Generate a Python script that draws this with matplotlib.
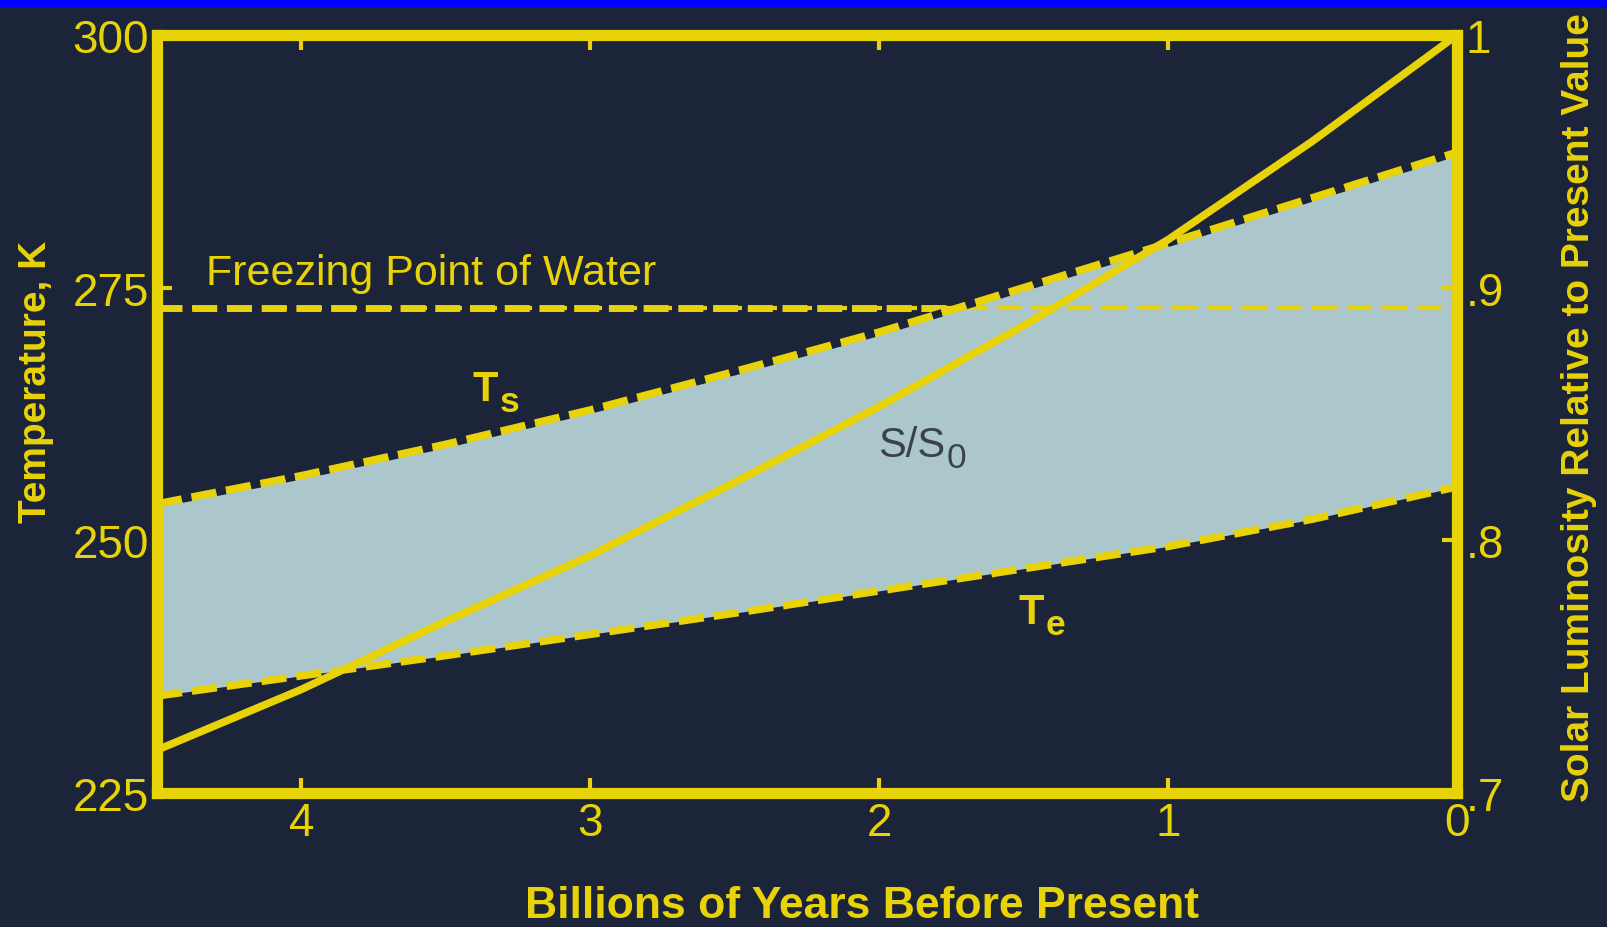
import matplotlib
matplotlib.use("Agg")
import matplotlib.pyplot as plt
from matplotlib.patches import Rectangle

plt.rcParams['font.family'] = ['Liberation Sans', 'DejaVu Sans']

# data
age = [4.5, 4.0, 3.5, 3.0, 2.5, 2.0, 1.5, 1.0, 0.5, 0.0]          # Gyr before present
t_surface = [253.6, 256.4, 259.5, 262.9, 266.7, 270.6, 275.0, 279.4, 283.9, 288.4]
t_effective = [234.6, 236.6, 238.6, 240.7, 242.8, 245.0, 247.2, 249.4, 252.1, 255.3]
s_ratio = [0.717, 0.741, 0.768, 0.794, 0.823, 0.853, 0.885, 0.919, 0.958, 1.0]
freezing = 273.0

x_ticks = [4, 3, 2, 1, 0]
x_labels = ['4', '3', '2', '1', '0']
t_ticks = [225, 250, 275, 300]
t_labels = ['225', '250', '275', '300']
s_ticks = [0.7, 0.8, 0.9, 1.0]
s_labels = ['.7', '.8', '.9', '1']

navy = '#1c2439'
yellow = '#e8d208'
pale = '#abc7cb'


def sub_label(ax, x, y, main, sub, color, size, weight):
    # big letter + lowered, slightly smaller subscript
    t = ax.text(x, y, main, color=color, fontsize=size, fontweight=weight,
                ha='right', va='center', zorder=6)
    ax.annotate(sub, xy=(1, 0.5), xycoords=t, xytext=(1, -size * 0.3),
                textcoords='offset points', color=color, fontsize=size * 0.85,
                fontweight=weight, ha='left', va='center', zorder=6)


fig = plt.figure(figsize=(16.08, 9.28), dpi=100, facecolor=navy)
fig.patches.append(Rectangle((0, 1 - 7 / 928), 1, 7 / 928, transform=fig.transFigure,
                             color='#0000ff', zorder=0))

ax = fig.add_axes([157 / 1608, 1 - 794 / 928, 1300 / 1608, 758 / 928])
ax.set_facecolor(navy)
ax.set_xlim(4.5, 0)
ax.set_ylim(225, 300)

# freezing line: thick on the dark part, thin across the shaded band
ax.axhline(freezing, color=yellow, lw=5, dashes=(3.6, 1.4), zorder=1)
ax.fill_between(age, t_effective, t_surface, color=pale, lw=0, zorder=2)
ax.axhline(freezing, color=yellow, lw=3, dashes=(6.0, 2.4), zorder=3)

ax.plot(age, t_surface, color=yellow, lw=5.5, dashes=(3.3, 1.3), gapcolor=navy, zorder=4)
ax.plot(age, t_effective, color=yellow, lw=5.5, dashes=(3.3, 1.3), zorder=4)

ax.set_xticks(x_ticks)
ax.set_xticklabels(x_labels)
ax.set_yticks(t_ticks)
ax.set_yticklabels(t_labels)
ax.tick_params(axis='both', direction='in', length=11, width=3, color=yellow,
               labelcolor=yellow, labelsize=33, top=True, pad=6)

ax.text(4.33, 276.5, 'Freezing Point of Water', color=yellow, fontsize=31,
        ha='left', va='center', zorder=6)
sub_label(ax, 3.32, 265.0, 'T', 's', yellow, 30, 'bold')
sub_label(ax, 1.43, 242.9, 'T', 'e', yellow, 30, 'bold')
sub_label(ax, 1.77, 259.4, 'S/S', '0', '#3a4448', 30, 'normal')

ax2 = ax.twinx()
ax2.set_ylim(0.7, 1.0)
ax2.plot(age, s_ratio, color=yellow, lw=5.5, solid_capstyle='butt', zorder=5)
ax2.set_yticks(s_ticks)
ax2.set_yticklabels(s_labels)
ax2.tick_params(axis='y', direction='in', length=11, width=3, color=yellow,
                labelcolor=yellow, labelsize=33, pad=6)

for a in (ax, ax2):
    for sp in a.spines.values():
        sp.set_color(yellow)
        sp.set_linewidth(8)
        sp.set_zorder(10)

fig.text(36 / 1608, 1 - 382 / 928, 'Temperature, K', color=yellow, fontsize=28,
         fontweight='bold', rotation=90, ha='center', va='center')
fig.text(1579 / 1608, 1 - 408 / 928, 'Solar Luminosity Relative to Present Value',
         color=yellow, fontsize=28, fontweight='bold', rotation=90, ha='center', va='center')
fig.text(862 / 1608, 1 - 907 / 928, 'Billions of Years Before Present', color=yellow,
         fontsize=32, fontweight='bold', ha='center', va='center')

fig.savefig('out.png', dpi=100, facecolor=fig.get_facecolor())
